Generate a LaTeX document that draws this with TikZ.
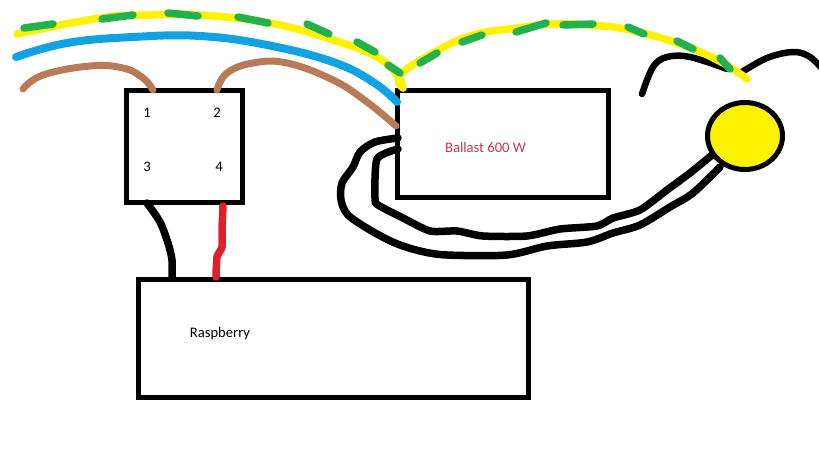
\documentclass[tikz,border=0pt]{standalone}
\usepackage{fontspec}
\setmainfont{Carlito}
\usetikzlibrary{shapes.geometric}
\definecolor{wyellow}{HTML}{FFF200}
\definecolor{wgreen}{HTML}{22B14C}
\definecolor{wblue}{HTML}{10A2E2}
\definecolor{wbrown}{HTML}{B97A57}
\definecolor{wred}{HTML}{E01F28}
\definecolor{lblred}{HTML}{C23B4A}
\tikzset{
  boxnode/.style={draw=black,line width=5pt,rectangle,inner sep=0pt,outer sep=0pt},
  lampnode/.style={draw=black,fill=wyellow,line width=5pt,ellipse,inner sep=0pt,outer sep=0pt,minimum width=75pt,minimum height=67pt},
  lbl/.style={inner sep=0pt,font=\fontsize{14.6}{16}\selectfont},
  wire/.style={line width=#1,line cap=round,line join=round},
  earth/.style={wire=7.5pt,draw=wyellow},
  stripe/.style={wire=7.5pt,draw=wgreen},
  phase/.style={wire=7pt,draw=wbrown},
  neutral/.style={wire=8pt,draw=wblue},
  blk/.style={wire=7.5pt,draw=black},
  mains/.style={wire=6.5pt,draw=black},
}
\begin{document}
\begin{tikzpicture}[x=1pt,y=-1pt]
\useasboundingbox (0,0) rectangle (819,460);
% boxes
\node[boxnode,minimum width=116pt,minimum height=112pt] (relay) at (184.5,146.5) {};
\node[boxnode,minimum width=210.5pt,minimum height=107.5pt] (ballast) at (503,144) {};
\node[boxnode,minimum width=390pt,minimum height=118pt] (rasp) at (333,338) {};
% terminals
\coordinate (t1) at (153,90);
\coordinate (t2) at (217,90);
\coordinate (t3) at (147,203);
\coordinate (t4) at (223,206);
\coordinate (rb) at (172,278);
\coordinate (rr) at (216,277);
\coordinate (be) at (403,88);
\coordinate (bn) at (397,102);
\coordinate (bp) at (396,126);
\coordinate (bo) at (398,138);
\coordinate (bi) at (398,149);
\coordinate (lo) at (720,167);
\coordinate (li) at (712,155);
\coordinate (freeE) at (17,34);
\coordinate (freeN) at (16,57);
\coordinate (freeP) at (23,89);
\coordinate (lampE) at (747,79);
\coordinate (bl1) at (642,94);
\coordinate (bl2) at (727,69);
\coordinate (bl3) at (742,72);
\coordinate (bl4) at (825,72);
% relay to Raspberry
\draw[blk] plot[smooth,tension=0.5] coordinates {(t3) (160,222) (168,243) (172,260) (rb)};
\draw[wire=7.5pt,draw=wred] plot[smooth,tension=0.4] coordinates {(t4) (222,230) (222,247) (217,257) (rr)};
% ballast to lamp
\draw[blk] plot[smooth,tension=0.5] coordinates {(bo) (375,142) (360,152) (353,167) (342,183) (341,200) (348,215) (370,230) (395,243) (420,251) (447,255) (507,255) (547,246) (587,242) (613,233) (640,225) (670,207) (693,193) (lo)};
\draw[blk] plot[smooth,tension=0.4] coordinates {(bi) (377,159) (375,198) (378,205) (403,218) (430,231) (457,231) (483,236) (527,236) (560,229) (597,226) (613,218) (640,210) (667,190) (690,173) (li)};
\node[lampnode] (lamp) at (745,136) {};
% black mains
\draw[mains] plot[smooth,tension=0.6] coordinates {(bl1) (653,67) (667,57) (690,57) (bl2)};
\draw[mains] plot[smooth,tension=0.6] coordinates {(bl3) (767,58) (793,52) (810,57) (bl4)};
% brown
\draw[phase] plot[smooth,tension=0.7] coordinates {(freeP) (43,75) (90,66) (123,68) (143,78) (t1)};
\draw[phase] plot[smooth,tension=0.7] coordinates {(t2) (227,73) (253,63) (287,63) (333,80) (367,102) (bp)};
% blue
\draw[neutral] plot[smooth,tension=0.7] coordinates {(freeN) (67,43) (133,37) (200,36) (267,45) (333,62) (373,82) (bn)};
% yellow
\draw[earth] plot[smooth,tension=0.7] coordinates {(freeE) (100,18) (150,15) (200,15) (270,23) (333,40) (377,57) (397,75) (be)};
\draw[earth] plot[smooth,tension=0.7] coordinates {(be) (400,75) (433,53) (473,35) (517,28) (553,24) (590,25) (630,30) (683,45) (723,63) (lampE)};
% stripes
\draw[stripe] (24,28) -- (53,24);
\draw[stripe] (102,19) -- (133,15);
\draw[stripe] (168,13) -- (198,16);
\draw[stripe] (238,17) -- (268,23);
\draw[stripe] (307,24) -- (329,34);
\draw[stripe] (357,42) -- (375,52);
\draw[stripe] (388,65) -- (400,73);
\draw[stripe] (420,63) -- (437,53);
\draw[stripe] (462,42) -- (482,35);
\draw[stripe] (516,32) -- (546,23);
\draw[stripe] (563,25) -- (593,24);
\draw[stripe] (628,27) -- (644,34);
\draw[stripe] (677,41) -- (693,49);
\draw[stripe] (720,58) -- (730,69);
% labels
\node[lbl] (n1) at (147,112.5) {1};
\node[lbl] (n2) at (217,112.5) {2};
\node[lbl] (n3) at (147,167) {3};
\node[lbl] (n4) at (219,167) {4};
\node[lbl,text=lblred] (bl) at (485.5,147) {Ballast 600 W};
\node[lbl] (rl) at (220,334) {Raspberry};
\end{tikzpicture}
\end{document}
